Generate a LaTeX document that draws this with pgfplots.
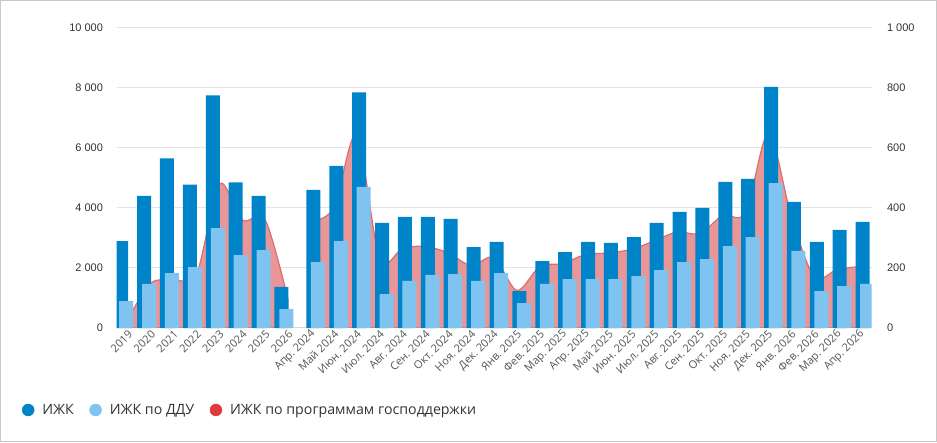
\documentclass[border=0pt]{standalone}
\usepackage{fontspec}
\setmainfont{Liberation Sans}
\newfontfamily\osans{Open Sans}
\usepackage{pgfplots}
\pgfplotsset{compat=1.18}

\definecolor{izk}{RGB}{0,132,201}
\definecolor{ddu}{RGB}{127,196,240}
\definecolor{gosfill}{RGB}{233,150,152}
\definecolor{gosline}{RGB}{221,108,110}
\definecolor{gosdot}{RGB}{224,57,62}
\definecolor{gridc}{RGB}{228,228,228}
\definecolor{basec}{RGB}{212,216,224}
\definecolor{tickc}{RGB}{51,51,51}
\definecolor{xlabc}{RGB}{85,85,85}
\definecolor{framec}{RGB}{200,200,200}

\pgfplotsset{
  frame axis/.style={
    scale only axis, width=755pt, height=300pt,
    at={(116.5pt,114pt)}, anchor=south west,
    xmin=-0.5, xmax=32.5, ymin=0,
    major tick length=0pt,
    scaled y ticks=false,
  },
  darkbar/.style={ybar, bar width=14pt, draw=none, fill=izk, bar shift=#1},
  lightbar/.style={ybar, bar width=14pt, draw=none, fill=ddu, bar shift=#1},
  gosarea/.style={smooth, tension=0.5, fill=gosfill, draw=gosline, line width=1.2pt},
}

\begin{document}
\frenchspacing
\begin{tikzpicture}[x=1pt,y=1pt]
\path[use as bounding box] (0,0) rectangle (937,442);
\draw[framec, line width=1pt] (0.5,0.5) rectangle (936.5,441.5);

% right axis: state-support mortgages (area), grid and category labels
\begin{axis}[
  frame axis,
  ymax=1000,
  axis y line*=right,
  axis x line*=bottom,
  x axis line style={draw=basec, line width=1pt, -},
  y axis line style={draw=none},
  ytick={0,200,400,600,800,1000},
  yticklabels={0,200,400,600,800,1~000},
  yticklabel style={font=\fontsize{11}{13}\selectfont, text=tickc, xshift=12pt},
  ymajorgrids, grid style={gridc, line width=1pt},
  xtick={0,...,32},
  xticklabels={2019,2020,2021,2022,2023,2024,2025,2026,
    Апр. 2024,Май 2024,Июн. 2024,Июл. 2024,Авг. 2024,Сен. 2024,Окт. 2024,Ноя. 2024,Дек. 2024,
    Янв. 2025,Фев. 2025,Мар. 2025,Апр. 2025,Май 2025,Июн. 2025,Июл. 2025,Авг. 2025,Сен. 2025,
    Окт. 2025,Ноя. 2025,Дек. 2025,Янв. 2026,Фев. 2026,Мар. 2026,Апр. 2026},
  xticklabel style={font=\osans\fontsize{11}{13}\selectfont, text=xlabc, rotate=45, anchor=east, yshift=-5pt, xshift=2pt},
]
\addplot[gosarea] coordinates {
  (0,30) (1,150) (2,160) (3,180) (4,480) (5,360) (6,360) (7,95)
} \closedcycle;
\addplot[gosarea] coordinates {
  (8,355) (9,400) (10,645) (11,230) (12,265) (13,272) (14,250) (15,208)
  (16,235) (17,125) (18,205) (19,215) (20,245) (21,250) (22,262) (23,290)
  (24,320) (25,315) (26,375) (27,385) (28,650) (29,370) (30,170) (31,195)
  (32,205)
} \closedcycle;
\end{axis}

% left axis: mortgages and mortgages under equity-participation contracts
\begin{axis}[
  frame axis,
  ymax=10000,
  axis y line*=left,
  axis x line=none,
  y axis line style={draw=none},
  xtick=\empty,
  ytick={0,2000,4000,6000,8000,10000},
  yticklabels={0,2~000,4~000,6~000,8~000,10~000},
  yticklabel style={font=\fontsize{11}{13}\selectfont, text=tickc, xshift=-10pt},
  legend columns=3,
  legend style={at={(-0.1252,-0.2733)}, anchor=west, draw=none, fill=none,
    inner sep=0pt, outer sep=0pt,
    font=\osans\fontsize{14.2}{17}\selectfont, text=tickc,
    /tikz/every odd column/.append style={column sep=6pt},
    /tikz/every even column/.append style={column sep=13.5pt}},
]
\addlegendimage{legend image code/.code={\fill[izk] (6pt,0pt) circle (6pt);}}
\addlegendimage{legend image code/.code={\fill[ddu] (6pt,0pt) circle (6pt);}}
\addlegendimage{legend image code/.code={\fill[gosdot] (6pt,0pt) circle (6pt);}}
\legend{ИЖК,ИЖК по ДДУ,ИЖК по программам господдержки}

% ИЖК
\addplot[darkbar=-6.7pt, forget plot] coordinates {
  (0,2900) (1,4400) (2,5650) (3,4780) (4,7750) (5,4850) (6,4400) (7,1370)
};
\addplot[darkbar=2.5pt, forget plot] coordinates {
  (8,4600) (9,5400) (10,7850) (11,3500) (12,3700) (13,3700) (14,3640) (15,2700)
  (16,2870) (17,1230) (18,2230) (19,2530) (20,2870) (21,2840) (22,3030) (23,3500)
  (24,3870) (25,4000) (26,4870) (27,4970) (28,8040) (29,4200) (30,2870) (31,3270)
  (32,3540)
};
% ИЖК по ДДУ
\addplot[lightbar=-1.7pt, forget plot] coordinates {
  (0,900) (1,1470) (2,1830) (3,2030) (4,3330) (5,2430) (6,2600) (7,630)
};
\addplot[lightbar=7pt, forget plot] coordinates {
  (8,2200) (9,2900) (10,4700) (11,1130) (12,1570) (13,1770) (14,1800) (15,1570)
  (16,1830) (17,830) (18,1470) (19,1630) (20,1630) (21,1630) (22,1730) (23,1930)
  (24,2200) (25,2300) (26,2730) (27,3030) (28,4830) (29,2570) (30,1230) (31,1400)
  (32,1470)
};
\end{axis}
\end{tikzpicture}
\end{document}
